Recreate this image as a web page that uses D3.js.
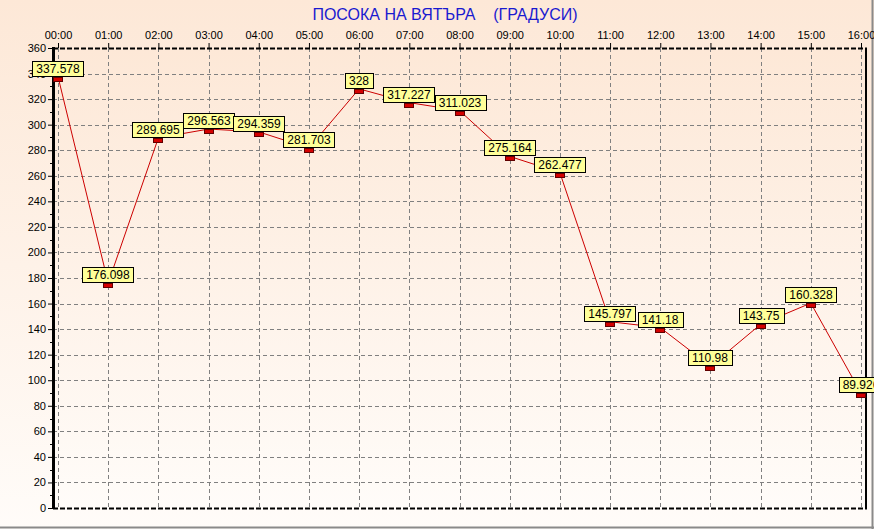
<!DOCTYPE html>
<html>
<head>
<meta charset="utf-8">
<script src="https://cdn.jsdelivr.net/npm/d3@7"></script>
<style>
  body { margin: 0; padding: 0; overflow: hidden; }
  text { font-family: Arial, "Liberation Sans", sans-serif; }
</style>
</head>
<body>
<div id="chart"></div>
<script>
(function() {
  var hours = ["00:00", "01:00", "02:00", "03:00", "04:00", "05:00", "06:00", "07:00", "08:00",
               "09:00", "10:00", "11:00", "12:00", "13:00", "14:00", "15:00", "16:00"];
  var direction = [337.578, 176.098, 289.695, 296.563, 294.359, 281.703, 328, 317.227, 311.023,
                   275.164, 262.477, 145.797, 141.18, 110.98, 143.75, 160.328, 89.926];
  var yTicks = [0, 20, 40, 60, 80, 100, 120, 140, 160, 180, 200, 220, 240, 260, 280, 300, 320, 340, 360];

  var W = 874, H = 529;
  var box = { left: 53, top: 48, right: 865, bottom: 508 };

  var svg = d3.select("#chart").append("svg")
    .attr("width", W).attr("height", H);

  var defs = svg.append("defs");
  var grad = defs.append("linearGradient").attr("id", "bg")
    .attr("x1", 0).attr("y1", 0).attr("x2", 0).attr("y2", 1);
  grad.append("stop").attr("offset", "0%").attr("stop-color", "#fde8d7");
  grad.append("stop").attr("offset", "100%").attr("stop-color", "#fffcf9");

  // background
  svg.append("rect").attr("width", W).attr("height", H).attr("fill", "url(#bg)");
  svg.append("rect")
    .attr("x", box.left).attr("y", box.top)
    .attr("width", box.right - box.left).attr("height", box.bottom - box.top)
    .attr("fill", "url(#bg)");

  // frame lines bottom / right
  svg.append("line").attr("x1", 0).attr("x2", W).attr("y1", 527.5).attr("y2", 527.5)
    .attr("stroke", "#8a8a8a").attr("stroke-width", 2);
  svg.append("line").attr("x1", 872.5).attr("x2", 872.5).attr("y1", 0).attr("y2", H)
    .attr("stroke", "#8a8a8a").attr("stroke-width", 2);

  var x = d3.scalePoint().domain(hours).range([58, 861]);
  var y = d3.scaleLinear().domain([0, 360]).range([box.bottom, box.top]);

  // grid
  var grid = svg.append("g");
  grid.selectAll(".hg").data(yTicks.slice(1, -1)).enter().append("line")
    .attr("x1", box.left).attr("x2", box.right)
    .attr("y1", function(d) { return Math.round(y(d)) + 0.5; })
    .attr("y2", function(d) { return Math.round(y(d)) + 0.5; })
    .attr("stroke", "#808080").attr("stroke-dasharray", "4,3");
  grid.selectAll(".vg").data(hours).enter().append("line")
    .attr("x1", function(d) { return Math.round(x(d)) + 0.5; })
    .attr("x2", function(d) { return Math.round(x(d)) + 0.5; })
    .attr("y1", box.top).attr("y2", box.bottom)
    .attr("stroke", "#808080").attr("stroke-dasharray", "4,3");

  // border of plot
  svg.append("line").attr("x1", box.left).attr("x2", box.right).attr("y1", box.top + 0.5).attr("y2", box.top + 0.5)
    .attr("stroke", "#000").attr("stroke-width", 2).attr("stroke-dasharray", "5,2");
  svg.append("line").attr("x1", box.left).attr("x2", box.right).attr("y1", box.bottom + 0.5).attr("y2", box.bottom + 0.5)
    .attr("stroke", "#000").attr("stroke-width", 2).attr("stroke-dasharray", "5,2");
  svg.append("line").attr("x1", box.right + 1).attr("x2", box.right + 1).attr("y1", box.top - 0.5).attr("y2", box.bottom + 1.5)
    .attr("stroke", "#000").attr("stroke-width", 2);

  // left axis
  var yAxis = d3.axisLeft(y).tickValues(yTicks).tickSize(5).tickPadding(2);
  var ya = svg.append("g").attr("transform", "translate(" + box.left + ",0)").call(yAxis);
  ya.select(".domain").remove();
  ya.selectAll("text").style("font-size", "11px").attr("fill", "#000");
  ya.append("line").attr("x1", 0.5).attr("x2", 0.5).attr("y1", box.top - 1).attr("y2", box.bottom + 1)
    .attr("stroke", "#000").attr("stroke-width", 3);
  ya.selectAll(".minor").data(d3.range(10, 360, 20)).enter().append("line")
    .attr("x1", -3).attr("x2", 0)
    .attr("y1", function(d) { return Math.round(y(d)) + 0.5; })
    .attr("y2", function(d) { return Math.round(y(d)) + 0.5; })
    .attr("stroke", "#000");

  // top axis
  var xAxis = d3.axisTop(x).tickSize(5).tickPadding(4);
  var xa = svg.append("g").attr("transform", "translate(0," + box.top + ")").call(xAxis);
  xa.select(".domain").remove();
  xa.selectAll("text").style("font-size", "11px").attr("fill", "#000");

  // title
  svg.append("text")
    .attr("x", 445).attr("y", 20)
    .attr("text-anchor", "middle")
    .attr("fill", "#1a1ad0")
    .style("font-size", "16px")
    .attr("xml:space", "preserve")
    .text("ПОСОКА НА ВЯТЪРА    (ГРАДУСИ)");

  // line
  var pts = hours.map(function(h, i) { return { h: h, v: direction[i] }; });
  var line = d3.line()
    .x(function(d) { return x(d.h); })
    .y(function(d) { return y(d.v); });
  svg.append("path").datum(pts)
    .attr("d", line)
    .attr("fill", "none")
    .attr("stroke", "#cc0000")
    .attr("stroke-width", 1);

  // markers
  svg.selectAll(".mk").data(pts).enter().append("rect")
    .attr("x", function(d) { return Math.round(x(d.h)) - 4.5; })
    .attr("y", function(d) { return Math.round(y(d.v)) + 0.5; })
    .attr("width", 9).attr("height", 4)
    .attr("fill", "#d40000").attr("stroke", "#600000").attr("stroke-width", 1);

  // labels
  var lab = svg.selectAll(".lab").data(pts).enter().append("g")
    .attr("transform", function(d) {
      return "translate(" + Math.round(x(d.h)) + "," + Math.round(y(d.v)) + ")";
    });
  lab.each(function(d) {
    var g = d3.select(this);
    var t = g.append("text")
      .attr("text-anchor", "middle")
      .attr("y", -4)
      .style("font-size", "12px")
      .attr("fill", "#000")
      .text(d.v);
    var w = t.node().getComputedTextLength() + 8;
    g.insert("rect", "text")
      .attr("x", -Math.round(w / 2) + 0.5)
      .attr("y", -15.5)
      .attr("width", Math.round(w))
      .attr("height", 15)
      .attr("fill", "#ffff99")
      .attr("stroke", "#000");
  });
})();
</script>
</body>
</html>
